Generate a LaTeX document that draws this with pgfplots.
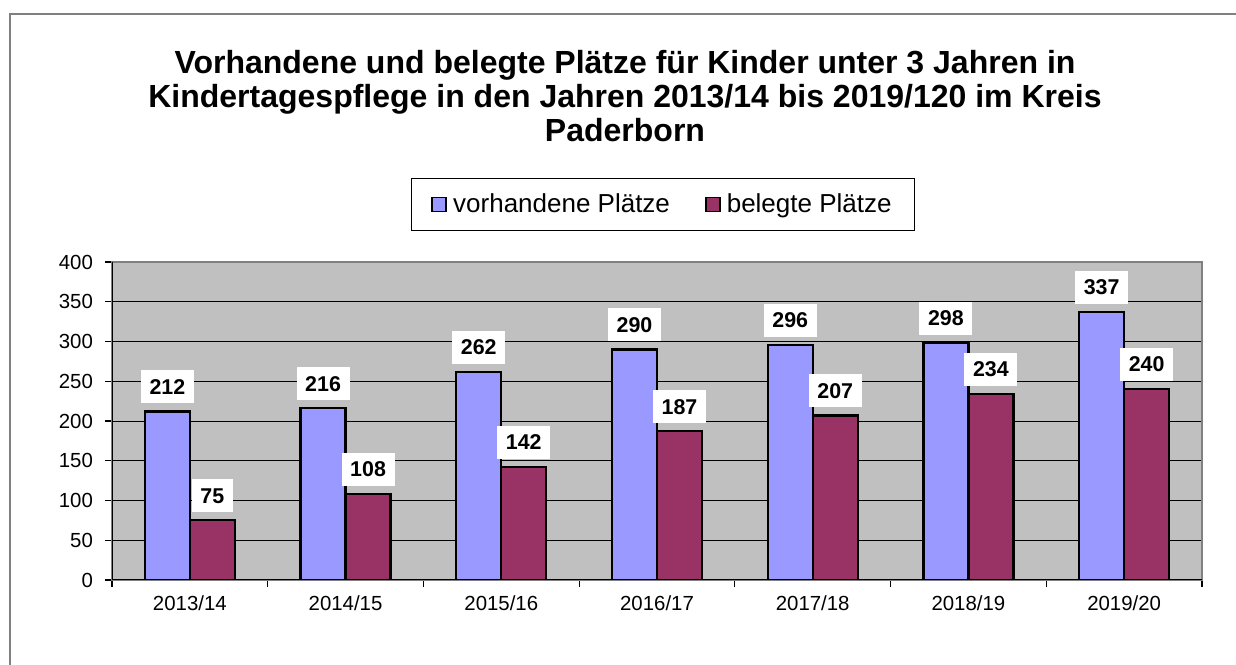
\documentclass[border=0pt]{standalone}
\usepackage{pgfplots}
\pgfplotsset{compat=1.18}
\usepackage{fontspec}
\setmainfont{Liberation Sans}
\definecolor{cblue}{HTML}{9999FF}
\definecolor{cred}{HTML}{993366}
\definecolor{cbg}{HTML}{C0C0C0}
\definecolor{cframe}{HTML}{808080}
\begin{document}
\begin{tikzpicture}[x=1pt,y=1pt]
\useasboundingbox (0pt,0pt) rectangle (618pt,332pt);
\draw[cframe, line width=0.6pt] (5pt,-2pt) -- (5pt,325pt) -- (620pt,325pt);
\node[font=\bfseries\fontsize{16}{16.8}\selectfont, align=center] at (312.5pt,284pt)
 {Vorhandene und belegte Plätze für Kinder unter 3 Jahren in\\Kindertagespflege in den Jahren 2013/14 bis 2019/120 im Kreis\\Paderborn};
\begin{axis}[
  at={(56pt,42pt)}, anchor=south west,
  width=545pt, height=159pt, scale only axis,
  /pgf/number format/assume math mode=true,
  ybar=0pt, bar width=22.5pt,
  xmin=-0.5, xmax=6.5, ymin=0, ymax=400,
  xtick={-0.5,0.5,...,6.5},
  xticklabels={2013/14,2014/15,2015/16,2016/17,2017/18,2018/19,2019/20},
  x tick label as interval,
  ytick={0,50,...,400},
  tick pos=left,
  axis line style={cframe, line width=0.6pt},
  axis background/.style={fill=cbg},
  ymajorgrids=true,
  major grid style={black, line width=0.45pt},
  tick align=outside,
  major tick length=3.5pt,
  tick style={black, line width=0.6pt},
  tick label style={font=\fontsize{10.2}{12}\selectfont},
  xticklabel style={yshift=-1pt},
  yticklabel style={xshift=-2.5pt},
  nodes near coords={\pgfmathprintnumber\pgfplotspointmeta},
  every node near coord/.append style={fill=white, font=\bfseries\fontsize{10.7}{12}\selectfont,
     inner xsep=4.3pt, minimum height=16.5pt, anchor=south, yshift=3.5pt},
  legend style={at={(0.5055,1.181)}, anchor=center, draw=black, line width=0.6pt,
     legend columns=2, font=\fontsize{13}{15}\selectfont,
     inner xsep=10pt, inner ysep=5.5pt,
     nodes={inner xsep=1.5pt},
     /tikz/every even column/.append style={column sep=16pt}},
  legend image code/.code={\draw[#1, line width=0.8pt] (0pt,-3.5pt) rectangle (7pt,3.5pt); \path[draw=none, fill=none] (0pt,0pt) rectangle (9pt,0.1pt);},
]
\addplot[fill=cblue, draw=black, line width=1.1pt] coordinates {(0,212) (1,216) (2,262) (3,290) (4,296) (5,298) (6,337)};
\addplot[fill=cred, draw=black, line width=1.1pt] coordinates {(0,75) (1,108) (2,142) (3,187) (4,207) (5,234) (6,240)};
\legend{vorhandene Plätze, belegte Plätze}
\draw[black, line width=0.7pt] (rel axis cs:0,1) -- (rel axis cs:0,0) -- (rel axis cs:1,0);
\end{axis}
\end{tikzpicture}
\end{document}
